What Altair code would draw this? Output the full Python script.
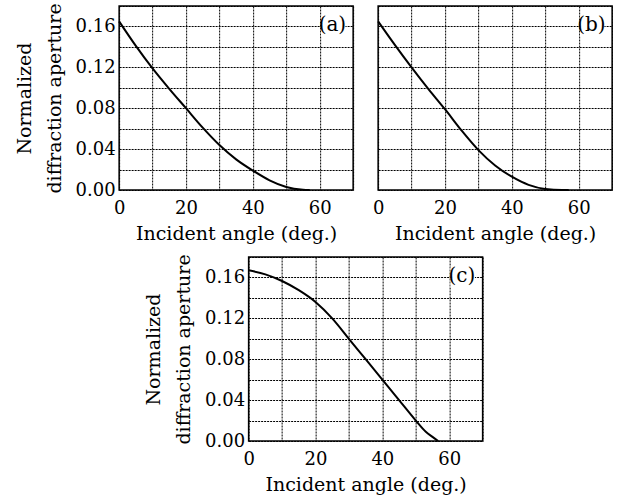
import altair as alt
import pandas as pd

# ---- data ----
angle_a = [0, 5, 10, 15, 20, 25, 30, 35, 40, 45, 50, 55, 57]
ap_a = [0.165, 0.141, 0.119, 0.099, 0.080, 0.061, 0.044, 0.030, 0.019, 0.0095, 0.003, 0.0003, 0.0]

angle_b = [0, 5, 10, 15, 20, 25, 30, 35, 40, 45, 50, 55, 57]
ap_b = [0.165, 0.142, 0.120, 0.099, 0.079, 0.058, 0.039, 0.024, 0.013, 0.005, 0.001, 0.0, 0.0]

angle_c = [0, 5, 10, 15, 20, 25, 30, 35, 40, 45, 50, 53, 55, 56.7]
ap_c = [0.167, 0.163, 0.1565, 0.1475, 0.136, 0.120, 0.100, 0.080, 0.060, 0.040, 0.020, 0.009, 0.004, 0.0]

panel_labels = ["(a)", "(b)", "(c)"]
x_ticks = [0, 10, 20, 30, 40, 50, 60, 70]
y_ticks = [0, 0.02, 0.04, 0.06, 0.08, 0.10, 0.12, 0.14, 0.16, 0.18]
x_title = "Incident angle (deg.)"
y_title = ["Normalized", "diffraction aperture"]
label_pos_x = 63.8
label_pos_y = 0.16

FONT = "DejaVu Serif"
W, H = 234, 184


def panel(xs, ys, label, show_y):
    df = pd.DataFrame({"angle": xs, "aperture": ys})
    xscale = alt.Scale(domain=[0, 70], nice=False)
    yscale = alt.Scale(domain=[0, 0.18], nice=False)
    xaxis = alt.Axis(values=x_ticks, labelExpr="datum.value % 20 == 0 ? datum.label : ''",
                     title=x_title, grid=True, ticks=False, labelPadding=9, titlePadding=7,
                     labelFlush=False)
    if show_y:
        yaxis = alt.Axis(values=y_ticks, format=".2f",
                         labelExpr="round(datum.value*100) % 4 == 0 ? datum.label : ''",
                         title=y_title, grid=True, ticks=False, labelPadding=4, titlePadding=11,
                         labelFlush=False)
    else:
        yaxis = alt.Axis(values=y_ticks, labels=False, title=None, grid=True, ticks=False,
                         labelPadding=0)
    line = alt.Chart(df).mark_line(color="black", strokeWidth=2, interpolate="monotone").encode(
        x=alt.X("angle:Q", scale=xscale, axis=xaxis),
        y=alt.Y("aperture:Q", scale=yscale, axis=yaxis),
    )
    ldf = pd.DataFrame({"x": [label_pos_x], "y": [label_pos_y], "t": [label]})
    box = alt.Chart(ldf).mark_rect(color="white").encode(
        x=alt.X("x1:Q", scale=xscale, axis=xaxis), x2="x2:Q",
        y=alt.Y("y1:Q", scale=yscale, axis=yaxis), y2="y2:Q",
    ).transform_calculate(x1="datum.x - 3.4", x2="datum.x + 3.9",
                          y1="datum.y - 0.01", y2="datum.y + 0.01")
    text = alt.Chart(ldf).mark_text(font=FONT, fontSize=20, color="black", dy=-1).encode(
        x=alt.X("x:Q", scale=xscale, axis=xaxis),
        y=alt.Y("y:Q", scale=yscale, axis=yaxis), text="t:N"
    )
    return alt.layer(line, box, text).properties(width=W, height=H)


a = panel(angle_a, ap_a, panel_labels[0], True)
b = panel(angle_b, ap_b, panel_labels[1], False)
c = panel(angle_c, ap_c, panel_labels[2], True)

top = alt.hconcat(a, b, spacing=17)

chart = alt.vconcat(top, c, spacing=9, center=True).properties(
    padding={"left": 14, "top": 2, "right": 0, "bottom": 0}
).configure_view(stroke="black", strokeWidth=1.5).configure_axis(
    labelFont=FONT, titleFont=FONT, labelFontSize=18, titleFontSize=19,
    labelColor="black", titleColor="black", titleFontWeight="normal",
    gridColor="black", gridOpacity=1, gridDash=[2, 1], gridWidth=1,
    domain=False, titleLineHeight=30
)

chart.save("out.html", embed_options={"renderer": "svg", "actions": False})
